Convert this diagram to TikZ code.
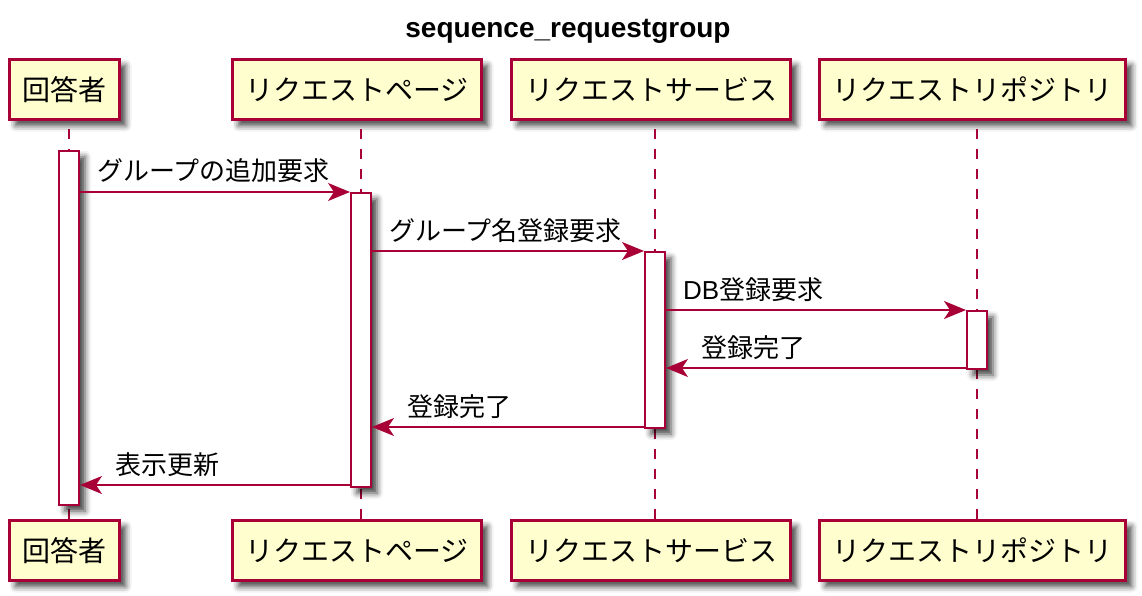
\documentclass[tikz,border=0pt]{standalone}
\usepackage{fontspec}
\setmainfont{Noto Sans CJK JP}
\newfontfamily\titlefont{Liberation Sans}
\usetikzlibrary{arrows.meta}
\usetikzlibrary{calc}
\usetikzlibrary{shadows.blur}
\definecolor{umlred}{HTML}{A80036}
\definecolor{umlcream}{HTML}{FEFECE}
\tikzset{>=Stealth}
\tikzstyle{actor} = [%
					draw = umlred,
					line width = 3pt,
					fill = umlcream,
					minimum height = 60pt,
					inner sep = 0pt,
					font = \fontsize{28}{34}\selectfont,
					blur shadow = {shadow xshift=6pt, shadow yshift=-6pt, shadow blur radius=6pt, shadow opacity=75}
					]
\tikzstyle{activation} = [%
					draw = umlred,
					line width = 2pt,
					fill = white,
					minimum width = 20pt,
					inner sep = 0pt,
					anchor = north,
					blur shadow = {shadow xshift=6pt, shadow yshift=-6pt, shadow blur radius=6pt, shadow opacity=75}
					]
\tikzstyle{lifeline} = [umlred, line width = 2pt, dash pattern = on 10pt off 10pt, shorten <= 8pt]
\tikzstyle{msg} = [umlred, line width = 2pt, -{Stealth[length=22pt, width=18pt, inset=6pt]}]
\tikzstyle{msglabel} = [anchor = base west, inner sep = 0pt, font = \fontsize{26}{31}\selectfont]

\begin{document}
\begin{tikzpicture}[x=1pt, y=-1pt]
    % canvas of the reference picture
    \useasboundingbox (0,0) rectangle (1142,596);

    % Layout parameters
    \def\headY  {89.5}      % centre of top participant boxes
    \def\footY  {550.5}     % centre of bottom participant boxes
    \def\lx     {17}        % label offset, arrow to the right
    \def\rx     {35}        % label offset, arrow to the left
    \def\ly     {11pt}      % label raise above arrow

    % lifeline positions
    \coordinate (resL)  at (69,0);
    \coordinate (pageL) at (361,0);
    \coordinate (svcL)  at (655,0);
    \coordinate (repoL) at (977,0);

    % message rows
    \coordinate (row1) at (0,192);
    \coordinate (row2) at (0,251);
    \coordinate (row3) at (0,310);
    \coordinate (row4) at (0,368);
    \coordinate (row5) at (0,427);
    \coordinate (row6) at (0,485);

    \node[anchor=base, font=\titlefont\bfseries\fontsize{28}{34}\selectfont] (title) at (568,38) {sequence\_requestgroup};

    % participants, top and bottom
    \node[actor, minimum width=110pt] (res)   at (64.5,\headY)  {回答者};
    \node[actor, minimum width=249pt] (page)  at (357,\headY)   {リクエストページ};
    \node[actor, minimum width=279pt] (svc)   at (651,\headY)   {リクエストサービス};
    \node[actor, minimum width=306pt] (repo)  at (972.5,\headY) {リクエストリポジトリ};
    \node[actor, minimum width=110pt] (resB)  at (64.5,\footY)  {回答者};
    \node[actor, minimum width=249pt] (pageB) at (357,\footY)   {リクエストページ};
    \node[actor, minimum width=279pt] (svcB)  at (651,\footY)   {リクエストサービス};
    \node[actor, minimum width=306pt] (repoB) at (972.5,\footY) {リクエストリポジトリ};

    % lifelines
    \draw[lifeline] (resL |- res.south)   -- (resL |- resB.north);
    \draw[lifeline] (pageL |- page.south) -- (pageL |- pageB.north);
    \draw[lifeline] (svcL |- svc.south)   -- (svcL |- svcB.north);
    \draw[lifeline] (repoL |- repo.south) -- (repoL |- repoB.north);

    % activation bars
    \node[activation, minimum height=354pt] (act1) at (69,150)  {};
    \node[activation, minimum height=294pt] (act2) at (361,192) {};
    \node[activation, minimum height=176pt] (act3) at (655,251) {};
    \node[activation, minimum height=58pt]  (act4) at (977,310) {};

    % messages
    \draw[msg] (act1.east |- row1) -- (act2.west |- row1);
    \node[msglabel, xshift=\lx, yshift=\ly] (lbl1) at (act1.east |- row1) {グループの追加要求};
    \draw[msg] (act2.east |- row2) -- (act3.west |- row2);
    \node[msglabel, xshift=\lx, yshift=\ly] (lbl2) at (act2.east |- row2) {グループ名登録要求};
    \draw[msg] (act3.east |- row3) -- (act4.west |- row3);
    \node[msglabel, xshift=\lx, yshift=\ly] (lbl3) at (act3.east |- row3) {{\titlefont DB}登録要求};
    \draw[msg] (act4.west |- row4) -- (act3.east |- row4);
    \node[msglabel, xshift=\rx, yshift=\ly] (lbl4) at (act3.east |- row4) {登録完了};
    \draw[msg] (act3.west |- row5) -- (act2.east |- row5);
    \node[msglabel, xshift=\rx, yshift=\ly] (lbl5) at (act2.east |- row5) {登録完了};
    \draw[msg] (act2.west |- row6) -- (act1.east |- row6);
    \node[msglabel, xshift=\rx, yshift=\ly] (lbl6) at (act1.east |- row6) {表示更新};

\end{tikzpicture}
\end{document}
